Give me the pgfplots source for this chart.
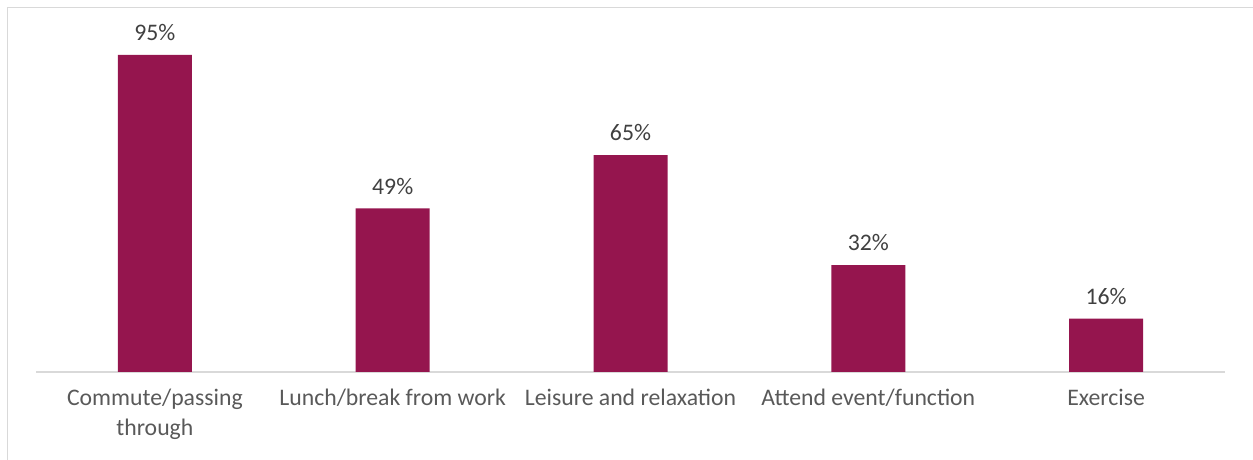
\documentclass[border=0pt]{standalone}
\usepackage{pgfplots}
\pgfplotsset{compat=1.18}
\usepackage{fontspec}
\setmainfont{Carlito}
\definecolor{barred}{HTML}{95154E}
\definecolor{framegray}{HTML}{D9D9D9}
\definecolor{labelgray}{HTML}{595959}
\definecolor{valgray}{HTML}{404040}
\begin{document}
% 1 px of the reference = 0.75pt
\begin{tikzpicture}
\useasboundingbox (0,0) rectangle (939.75pt,345pt);
\draw[framegray, line width=1.2pt] (5.5pt,-20pt) -- (5.5pt,339.5pt) -- (960pt,339.5pt);
\begin{axis}[
    at={(27pt,66pt)}, anchor=south west,
    scale only axis,
    width=891.75pt, height=250.3pt,
    xmin=-0.5, xmax=4.5,
    ymin=0, ymax=100,
    axis x line*=bottom,
    axis y line=none,
    x axis line style={draw=framegray, line width=1.1pt, -},
    xtick=data,
    xtick style={draw=none},
    xticklabels={{Commute/passing\\through}, {Lunch/break from work}, {Leisure and relaxation}, {Attend event/function}, {Exercise}},
    xticklabel style={align=center, text=labelgray, font=\fontsize{17.8}{22.5}\selectfont, yshift=-5pt},
    ytick=\empty,
    ybar, bar width=55.5pt,
    /pgf/number format/assume math mode=true,
    nodes near coords={\pgfmathprintnumber{\pgfplotspointmeta}\%},
    nodes near coords style={text=valgray, font=\fontsize{17.8}{20}\selectfont, yshift=7pt},
    clip=false,
]
\addplot[fill=barred, draw=none] coordinates {(0,95) (1,49) (2,65) (3,32) (4,16)};
\end{axis}
\end{tikzpicture}
\end{document}
